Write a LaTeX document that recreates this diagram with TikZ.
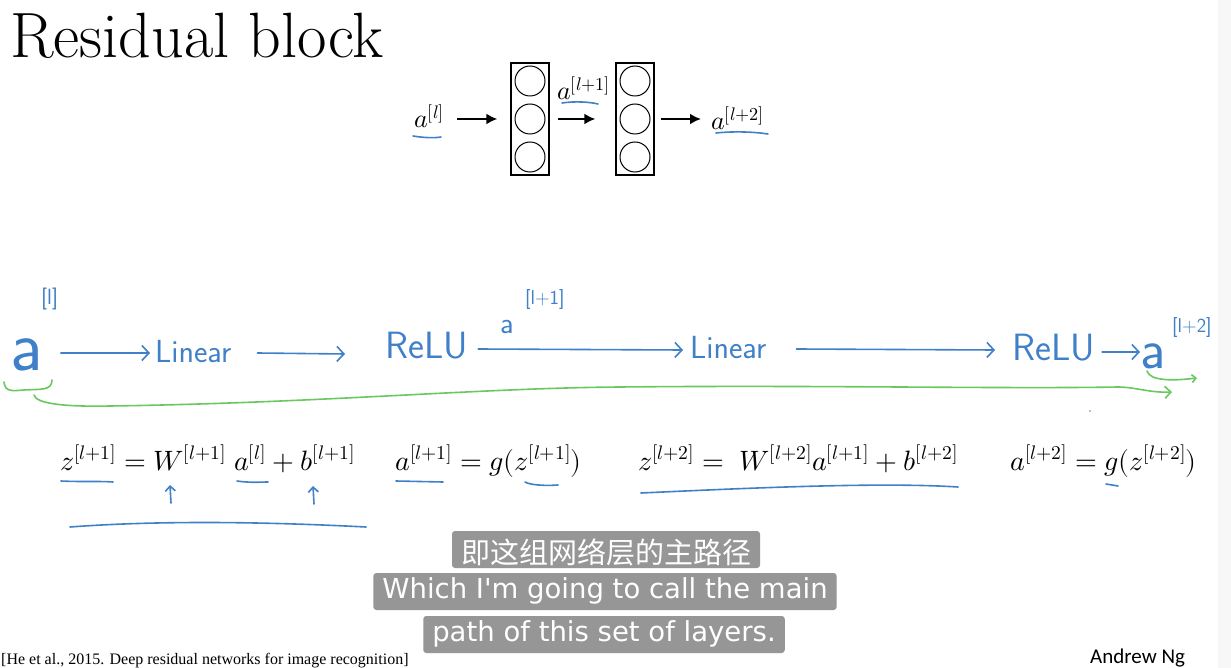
\documentclass[tikz,border=0pt]{standalone}
\usepackage{amsmath}
\usepackage{fontspec}
\usepackage{unicode-math}
\newfontfamily\cjk{Noto Sans CJK SC}
\newfontfamily\capfont{DejaVu Sans}
\newfontfamily\ngfont{Carlito}
\newfontfamily\reffont{Liberation Serif}
\usepackage{xcolor}
\usepackage{tikz}
\usetikzlibrary{arrows.meta,positioning,calc}
\definecolor{pen}{RGB}{64,128,200}
\definecolor{hl}{RGB}{105,200,95}
\definecolor{capbg}{RGB}{150,150,150}
\newcommand{\fsz}[1]{\fontsize{#1}{#1}\selectfont}

\begin{document}
\begin{tikzpicture}[x=1pt, y=-1pt,
    lay/.style={rectangle, draw=black, line width=1.3pt, minimum width=38pt, minimum height=112pt, inner sep=0pt},
    unit/.style={circle, draw=black, line width=1pt, minimum size=30pt, inner sep=0pt},
    arr/.style={-{Latex[length=11pt, width=11pt]}, line width=2.2pt},
    mth/.style={anchor=base west, inner sep=0pt, font=\fsz{26}},
    eq/.style={mth, font=\fsz{28}},
    hw/.style={anchor=base west, inner sep=0pt, text=pen, font=\sffamily\fsz{#1}},
    pen/.style={draw=pen, line width=1.6pt, line cap=round, line join=round},
    parr/.style={pen, -{Straight Barb[length=7pt, width=15pt]}},
    grn/.style={draw=hl, line width=1.6pt, line cap=round, line join=round},
    sub/.style={fill=capbg, text=white, rounded corners=3pt, inner xsep=9pt, inner ysep=0pt, anchor=base, font=\capfont\fsz{27.5}, text height=25pt, text depth=12pt}
]
    \useasboundingbox (0,0) rectangle (1231,668);
    \fill[white] (0,0) rectangle (1231,668);
    \fill[gray!6] (1218,0) rectangle (1231,668);

    \node[anchor=base west, inner sep=0pt, font=\fsz{64}] (title) at (10,58) {Residual block};

    % two-layer block
    \node[lay] (L1) at (530,119) {};
    \node[lay] (L2) at (635,119) {};
    \foreach \b in {L1,L2}
      \foreach \k/\dy in {1/-38,2/0,3/38}
        \node[unit] (\b u\k) at ($(\b)+(0,\dy)$) {};

    \node[mth] (x0) at (414,128) {$a^{[l]}$};
    \node[mth] (x1) at (557,100) {$a^{[l+1]}$};
    \node[mth] (x2) at (711,130) {$a^{[l+2]}$};

    \draw[arr] ([xshift=13pt]x0.east |- L1.west) -- ([xshift=-13pt]L1.west);
    \draw[arr] ([xshift=8pt]L1.east) -- ([xshift=-20pt]L2.west);
    \draw[arr] ([xshift=6pt]L2.east) -- ([xshift=-10pt]x2.west |- L2.east);

    \draw[pen] (413,136) .. controls (425,138) and (435,138) .. (441,137);
    \draw[pen] (562,103) .. controls (575,101) and (590,102) .. (598,104);
    \draw[pen] (716,133) .. controls (735,131) and (755,132) .. (768,134);

    % main path, handwritten
    \node[hw=72] (h0) at (10,370) {a};
    \node[hw=22] (h0s) at (41,305) {[l]};
    \node[hw=32] (hl1) at (155,362) {Linear};
    \node[hw=38] (hr1) at (385,358) {ReLU};
    \node[hw=30] (ha1) at (500,333) {a};
    \node[hw=20] (ha1s) at (525,305) {[l+1]};
    \node[hw=32] (hl2) at (690,358) {Linear};
    \node[hw=38] (hr2) at (1012,360) {ReLU};
    \node[hw=56] (ha2) at (1140,368) {a};
    \node[hw=20] (ha2s) at (1172,332) {[l+2]};

    \draw[parr] ([shift={(18,-17)}]h0.base east) -- ([shift={(-5,-9)}]hl1.base west);
    \draw[parr] ([shift={(26,-9)}]hl1.base east) -- ([shift={(-40,-4)}]hr1.base west);
    \draw[parr] ([shift={(10,-9)}]hr1.base east) -- ([shift={(-7,-8)}]hl2.base west);
    \draw[parr] ([shift={(30,-9)}]hl2.base east) -- ([shift={(-17,-10)}]hr2.base west);
    \draw[parr] ([shift={(7,-8)}]hr2.base east) -- ([shift={(0,-16)}]ha2.base west);

    % shortcut
    \draw[grn] (4,382) .. controls (5,392) and (12,391) .. (24,390) .. controls (40,389) and (52,391) .. (52,380);
    \draw[grn, -{Straight Barb[length=6pt, width=12pt]}] ([shift={(24,25)}]h0.base west) .. controls +(2,8) and (60,407) .. (110,406)
        .. controls (320,403) and (480,388) .. (620,387) .. controls (820,385) and (1000,389) .. (1118,387)
        .. controls (1135,387) and (1150,393) .. ([shift={(32,24)}]ha2.base west);
    \draw[grn, -{Straight Barb[length=4pt, width=8pt]}] (1147,371) .. controls (1150,381) and (1172,381) .. (1197,378);
    \fill[pen!60] (1090,411) circle (1.2);

    % equations
    \node[eq] (e1) at (60,470) {$z^{[l+1]} = W^{[l+1]}\;a^{[l]} + b^{[l+1]}$};
    \node[eq] (e2) at (395,470) {$a^{[l+1]} = g(z^{[l+1]})$};
    \node[eq] (e3) at (638,470) {$z^{[l+2]} =\; W^{[l+2]}a^{[l+1]} + b^{[l+2]}$};
    \node[eq] (e4) at (1010,470) {$a^{[l+2]} = g(z^{[l+2]})$};

    \draw[pen] (61,481) .. controls (80,482) and (100,481) .. (113,482);
    \draw[pen, -{Straight Barb[length=5pt, width=10pt]}] (171,503) -- (170,485);
    \draw[pen] (237,481) .. controls (250,483) and (262,482) .. (268,482);
    \draw[pen, -{Straight Barb[length=5pt, width=10pt]}] (314,504) -- (313,486);
    \draw[pen] (396,481) -- (443,482);
    \draw[pen] (525,482) .. controls (530,485) and (545,486) .. (558,485);
    \draw[pen] (70,527) .. controls (150,521) and (250,521) .. (366,527);
    \draw[pen] (641,493) .. controls (750,488) and (880,482) .. (958,487);
    \draw[pen] (1106,484) -- (1118,486);

    % captions
    \node[sub, font=\cjk\fsz{29}, text height=32pt, text depth=5pt] (s1) at (606,563) {即这组网络层的主路径};
    \node[sub] (s2) at (605,598) {Which I'm going to call the main};
    \node[sub] (s3) at (604,641) {path of this set of layers.};

    \node[anchor=base west, inner sep=0pt, font=\reffont\fsz{16}] (ref) at (1,664) {[He et al., 2015. Deep residual networks for image recognition]};
    \node[anchor=base west, inner sep=0pt, font=\ngfont\fsz{21}] (ng) at (1090,663) {Andrew Ng};
\end{tikzpicture}
\end{document}
